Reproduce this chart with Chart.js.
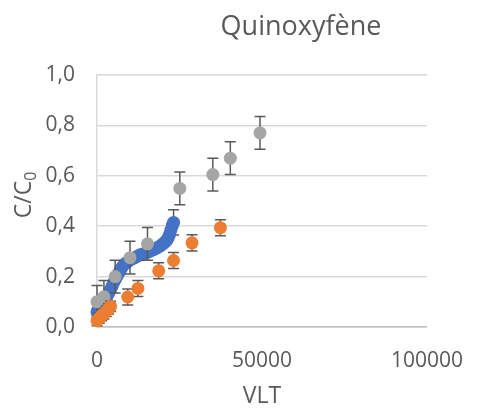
<!DOCTYPE html>
<html>
<head>
<meta charset="utf-8">
<script src="https://cdn.jsdelivr.net/npm/chart.js@4"></script>
<style>
  body { margin: 0; background: #fff; }
</style>
</head>
<body>
<canvas id="myChart" width="484" height="410"></canvas>
<script>
  // values
  const blueX = [0, 300, 700, 1100, 1500, 2000, 2500, 3000, 3500, 4000, 4500, 5000, 5500, 6000, 6500, 7000, 7500, 8000, 8600, 9200, 9900, 10600, 11400, 12400, 13300, 14300, 15300, 16300, 17300, 18200, 19200, 20000, 20700, 21200, 21600, 22000, 22400, 22800, 23200];
  const blueY = [0.060, 0.065, 0.072, 0.080, 0.088, 0.098, 0.108, 0.120, 0.133, 0.146, 0.160, 0.175, 0.188, 0.200, 0.212, 0.224, 0.235, 0.245, 0.252, 0.258, 0.265, 0.270, 0.275, 0.282, 0.288, 0.292, 0.296, 0.302, 0.308, 0.314, 0.322, 0.330, 0.338, 0.345, 0.355, 0.368, 0.385, 0.402, 0.415];
  // only the last blue error bar shows past the markers
  const blueErr = [0.01, 0.01, 0.01, 0.01, 0.01, 0.01, 0.01, 0.01, 0.01, 0.01, 0.01, 0.01, 0.01, 0.01, 0.01, 0.01, 0.01, 0.01, 0.01, 0.01, 0.01, 0.01, 0.01, 0.01, 0.01, 0.01, 0.01, 0.01, 0.01, 0.01, 0.01, 0.01, 0.01, 0.01, 0.01, 0.01, 0.01, 0.01, 0.05];

  const orangeX = [0, 700, 1400, 2100, 2800, 3500, 4100, 9300, 12400, 18700, 23200, 28800, 37400];
  const orangeY = [0.025, 0.035, 0.045, 0.052, 0.062, 0.072, 0.082, 0.119, 0.153, 0.223, 0.264, 0.334, 0.394];
  const orangeErr = [0.02, 0.02, 0.02, 0.02, 0.02, 0.02, 0.02, 0.032, 0.032, 0.032, 0.032, 0.032, 0.032];

  const grayX = [0, 2100, 5500, 10000, 15300, 25100, 35100, 40400, 49400];
  const grayY = [0.10, 0.12, 0.20, 0.275, 0.33, 0.55, 0.605, 0.67, 0.77];
  const grayErr = [0.065, 0.065, 0.065, 0.065, 0.065, 0.065, 0.065, 0.065, 0.065];

  const xTicks = [0, 50000, 100000];
  const yTicks = [0, 0.2, 0.4, 0.6, 0.8, 1.0];

  const textColor = '#595959';
  const font = 'Open Sans';

  function points(xs, ys) {
    return xs.map((x, i) => ({ x: x, y: ys[i] }));
  }

  const errorBars = {
    id: 'errorBars',
    beforeDatasetDraw(chart, args) {
      const ds = chart.data.datasets[args.index];
      if (ds.errors === undefined) return;
      const ctx = chart.ctx;
      const xs = chart.scales.x;
      const ys = chart.scales.y;
      ctx.save();
      ctx.strokeStyle = textColor;
      ctx.lineWidth = 1.5;
      ds.data.forEach((p, i) => {
        const e = ds.errors[i];
        const px = xs.getPixelForValue(p.x);
        const top = ys.getPixelForValue(p.y + e);
        const bot = ys.getPixelForValue(p.y - e);
        ctx.beginPath();
        ctx.moveTo(px, top); ctx.lineTo(px, bot);
        ctx.moveTo(px - 5.5, top); ctx.lineTo(px + 5.5, top);
        ctx.moveTo(px - 5.5, bot); ctx.lineTo(px + 5.5, bot);
        ctx.stroke();
      });
      ctx.restore();
    }
  };

  const titles = {
    id: 'titles',
    afterDraw(chart) {
      const ctx = chart.ctx;
      const area = chart.chartArea;
      ctx.save();
      ctx.fillStyle = textColor;
      ctx.textBaseline = 'middle';
      ctx.textAlign = 'center';
      ctx.font = '27px "' + font + '"';
      ctx.fillText('Quinoxyfène', 301, 27);

      ctx.font = '23px "' + font + '"';
      ctx.fillText('VLT', (area.left + area.right) / 2, 396);

      // rotated y title with subscript
      ctx.translate(24, 195);
      ctx.rotate(-Math.PI / 2);
      ctx.font = '23px "' + font + '"';
      const main = 'C/C';
      const wMain = ctx.measureText(main).width;
      ctx.font = '16px "' + font + '"';
      const wSub = ctx.measureText('0').width;
      const start = -(wMain + wSub) / 2;
      ctx.textAlign = 'left';
      ctx.font = '23px "' + font + '"';
      ctx.fillText(main, start, 0);
      ctx.font = '16px "' + font + '"';
      ctx.fillText('0', start + wMain, 7);
      ctx.restore();
    }
  };

  const ctx = document.getElementById('myChart').getContext('2d');
  const myChart = new Chart(ctx, {
    type: 'scatter',
    data: {
      datasets: [
        {
          label: 'Série 1',
          data: points(blueX, blueY),
          errors: blueErr,
          backgroundColor: '#4472C4',
          borderColor: '#4472C4',
          pointRadius: 6.5,
          order: 2
        },
        {
          label: 'Série 2',
          data: points(orangeX, orangeY),
          errors: orangeErr,
          backgroundColor: '#ED7D31',
          borderColor: '#ED7D31',
          pointRadius: 6.5,
          order: 0
        },
        {
          label: 'Série 3',
          data: points(grayX, grayY),
          errors: grayErr,
          backgroundColor: '#A5A5A5',
          borderColor: '#A5A5A5',
          pointRadius: 6.5,
          order: 1
        }
      ]
    },
    options: {
      responsive: false,
      animation: false,
      clip: false,
      layout: { padding: { top: 75, right: 41, left: 0, bottom: 0 } },
      plugins: {
        legend: { display: false },
        tooltip: { enabled: false }
      },
      elements: { point: { borderWidth: 0 } },
      scales: {
        x: {
          type: 'linear',
          min: xTicks[0],
          max: xTicks[xTicks.length - 1],
          afterBuildTicks: s => { s.ticks = xTicks.map(v => ({ value: v })); },
          afterFit: s => { s.height = 83; },
          ticks: {
            padding: 21,
            maxRotation: 0,
            color: textColor,
            font: { family: font, size: 21 },
            callback: v => String(v)
          },
          grid: { display: false, drawTicks: false },
          border: { color: '#bfbfbf', width: 1.5 }
        },
        y: {
          min: yTicks[0],
          max: yTicks[yTicks.length - 1],
          afterBuildTicks: s => { s.ticks = yTicks.map(v => ({ value: v })); },
          afterFit: s => { s.width = 97; },
          ticks: {
            padding: 22,
            color: textColor,
            font: { family: font, size: 21 },
            callback: v => v.toFixed(1).replace('.', ',')
          },
          grid: { color: '#d9d9d9', lineWidth: 1.5, drawTicks: false },
          border: { color: '#d9d9d9', width: 1.5 }
        }
      }
    },
    plugins: [errorBars, titles]
  });
</script>
</body>
</html>
